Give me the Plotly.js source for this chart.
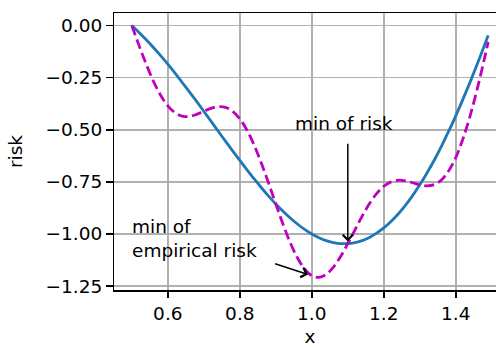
<!DOCTYPE html>
<html>
<head>
<meta charset="utf-8">
<script src="https://cdn.plot.ly/plotly-3.0.1.min.js"></script>
<style>
html,body{margin:0;padding:0;overflow:hidden;background:#fff;}
#chart{width:506px;height:347px;}
</style>
</head>
<body>
<div id="chart"></div>
<script>
// x positions
const xs = [0.50,0.52,0.54,0.56,0.58,0.60,0.62,0.64,0.66,0.68,0.70,0.72,0.74,0.76,0.78,0.80,0.82,0.84,0.86,0.88,0.90,0.92,0.94,0.96,0.98,1.00,1.02,1.04,1.06,1.08,1.10,1.12,1.14,1.16,1.18,1.20,1.22,1.24,1.26,1.28,1.30,1.32,1.34,1.36,1.38,1.40,1.42,1.44,1.46,1.48,1.49];
// risk (blue)
const risk = [0.000,-0.033,-0.068,-0.105,-0.144,-0.185,-0.228,-0.273,-0.318,-0.364,-0.411,-0.459,-0.507,-0.554,-0.601,-0.647,-0.692,-0.736,-0.778,-0.818,-0.856,-0.891,-0.923,-0.952,-0.978,-1.000,-1.018,-1.032,-1.041,-1.046,-1.046,-1.041,-1.032,-1.017,-0.996,-0.971,-0.940,-0.904,-0.863,-0.816,-0.764,-0.707,-0.646,-0.579,-0.508,-0.433,-0.353,-0.270,-0.183,-0.093,-0.047];
// empirical risk (magenta dashed)
const empRisk = [0.000,-0.095,-0.185,-0.267,-0.334,-0.385,-0.418,-0.434,-0.436,-0.426,-0.411,-0.397,-0.389,-0.392,-0.411,-0.447,-0.502,-0.574,-0.661,-0.756,-0.856,-0.953,-1.041,-1.114,-1.168,-1.200,-1.208,-1.194,-1.159,-1.108,-1.046,-0.980,-0.914,-0.855,-0.806,-0.771,-0.750,-0.742,-0.745,-0.754,-0.764,-0.769,-0.763,-0.741,-0.698,-0.633,-0.543,-0.432,-0.301,-0.155,-0.078];
const xTitle = 'x';
const yTitle = 'risk';
const annRiskText = 'min of risk';
const annEmpText = 'min of<br>empirical risk';
const annRiskPt = [1.1, -1.05], annRiskTail = [1.1, -0.56], annRiskTextPos = [0.953, -0.5];
const annEmpPt = [1.0, -1.2], annEmpTail = [0.894, -1.14], annEmpTextPos = [0.5, -1.1];

const font = {family: 'DejaVu Sans', size: 18.5, color: '#000'};
const traces = [
  {x: xs, y: risk, mode: 'lines', line: {color: '#1f77b4', width: 2.8, shape: 'spline'}, hoverinfo: 'skip'},
  {x: xs, y: empRisk, mode: 'lines', line: {color: '#bf00bf', width: 2.8, dash: '10px,4.5px', shape: 'spline'}, hoverinfo: 'skip'}
];
const axisCommon = {
  showgrid: true, gridcolor: '#b0b0b0', gridwidth: 1.5,
  zeroline: false, showline: true, linecolor: '#000', linewidth: 1.5, mirror: true,
  ticks: 'outside', ticklen: 6.5, tickwidth: 1.5, tickcolor: '#000',
  tickfont: font
};
const layout = {
  width: 506, height: 347,
  margin: {l: 114, r: 0, t: 13, b: 57},
  paper_bgcolor: '#fff', plot_bgcolor: '#fff',
  showlegend: false,
  font: font,
  xaxis: Object.assign({}, axisCommon, {
    range: [0.4505, 1.5395], tick0: 0, dtick: 0.2, tickformat: '.1f',
    title: {text: xTitle, font: font, standoff: 9}
  }),
  yaxis: Object.assign({}, axisCommon, {
    range: [-1.2687, 0.0604], tick0: 0, dtick: 0.25, tickformat: '.2f',
    title: {text: yTitle, font: font, standoff: 18}
  }),
  annotations: [
    {x: annRiskTextPos[0], y: annRiskTextPos[1], xref: 'x', yref: 'y', text: annRiskText, showarrow: false,
     xanchor: 'left', yanchor: 'bottom', yshift: -6, xshift: -2, font: font},
    {x: annEmpTextPos[0], y: annEmpTextPos[1], xref: 'x', yref: 'y', text: annEmpText, showarrow: false,
     xanchor: 'left', yanchor: 'bottom', yshift: -8, xshift: -2, align: 'left', font: font},
    {x: annRiskPt[0], y: annRiskPt[1], xref: 'x', yref: 'y', ax: annRiskTail[0], ay: annRiskTail[1], axref: 'x', ayref: 'y',
     text: '', showarrow: true, arrowhead: 4, arrowsize: 1.3, arrowwidth: 1.5, arrowcolor: '#000', standoff: 3},
    {x: annEmpPt[0], y: annEmpPt[1], xref: 'x', yref: 'y', ax: annEmpTail[0], ay: annEmpTail[1], axref: 'x', ayref: 'y',
     text: '', showarrow: true, arrowhead: 4, arrowsize: 1.3, arrowwidth: 1.5, arrowcolor: '#000', standoff: 4}
  ]
};
Plotly.newPlot('chart', traces, layout, {displayModeBar: false, staticPlot: true});
</script>
</body>
</html>
